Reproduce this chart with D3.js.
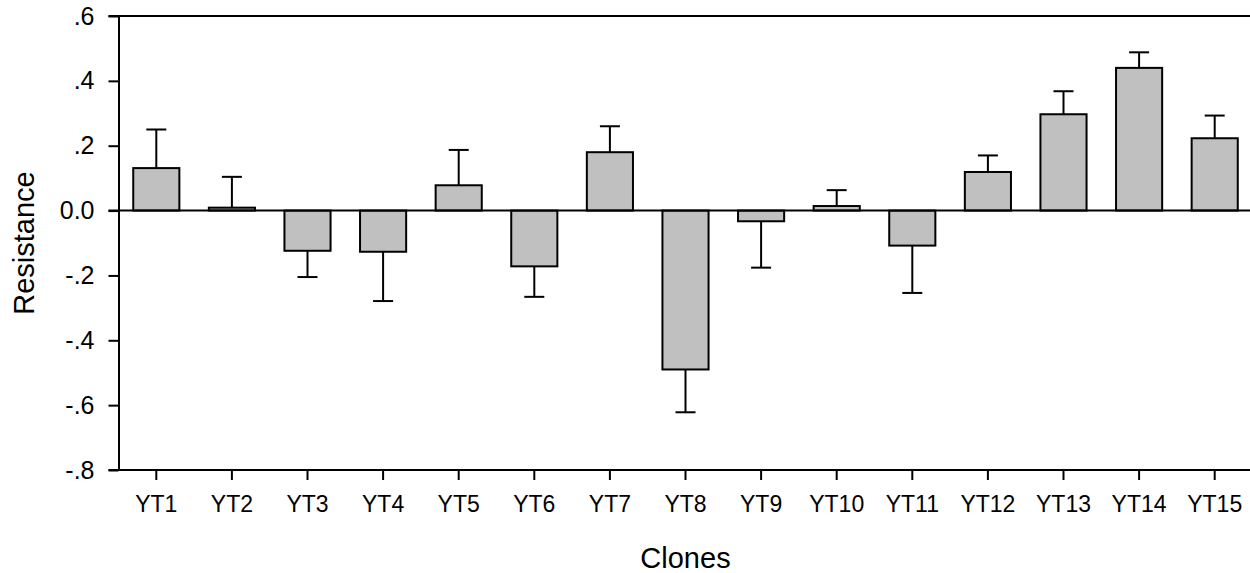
<!DOCTYPE html>
<html>
<head>
<meta charset="utf-8">
<script src="https://cdn.jsdelivr.net/npm/d3@7"></script>
<style>
  body { margin: 0; background: #fff; }
  svg text { font-family: 'Liberation Sans', Arial, sans-serif; fill: #000; }
</style>
</head>
<body>
<svg id="chart" width="1250" height="573"></svg>
<script>
const clones = ['YT1', 'YT2', 'YT3', 'YT4', 'YT5', 'YT6', 'YT7', 'YT8', 'YT9', 'YT10', 'YT11', 'YT12', 'YT13', 'YT14', 'YT15'];
const resistance = [0.131, 0.009, -0.124, -0.127, 0.078, -0.172, 0.180, -0.490, -0.033, 0.014, -0.108, 0.119, 0.297, 0.440, 0.223];
const errors = [0.119, 0.095, 0.081, 0.152, 0.109, 0.094, 0.080, 0.132, 0.143, 0.049, 0.146, 0.051, 0.071, 0.048, 0.070];
const yTicks = [0.6, 0.4, 0.2, 0.0, -0.2, -0.4, -0.6, -0.8];
const yTickLabels = ['.6', '.4', '.2', '0.0', '-.2', '-.4', '-.6', '-.8'];

const width = 1250;
const height = 573;
const plotLeft = 118.5;
const plotRight = 1252.5;
const plotTop = 16;
const plotBottom = 470;

const svg = d3.select('#chart');

const x = d3.scaleBand()
    .domain(clones)
    .range([plotLeft, plotRight])
    .paddingInner(0.39)
    .paddingOuter(0.195);

const y = d3.scaleLinear()
    .domain([-0.8, 0.6])
    .range([plotBottom, plotTop]);

// bars
svg.append('g')
    .selectAll('rect')
    .data(resistance)
    .enter()
    .append('rect')
    .attr('x', (d, i) => x(clones[i]))
    .attr('width', x.bandwidth())
    .attr('y', d => y(Math.max(0, d)))
    .attr('height', d => Math.abs(y(d) - y(0)))
    .attr('fill', '#c0c0c0')
    .attr('stroke', '#000')
    .attr('stroke-width', 2);

// one-sided error bars, pointing away from zero
const errG = svg.append('g').attr('stroke', '#000').attr('stroke-width', 2);
resistance.forEach((d, i) => {
    const cx = x(clones[i]) + x.bandwidth() / 2;
    const end = d >= 0 ? d + errors[i] : d - errors[i];
    errG.append('line')
        .attr('x1', cx).attr('x2', cx)
        .attr('y1', y(d)).attr('y2', y(end));
    errG.append('line')
        .attr('x1', cx - 10).attr('x2', cx + 10)
        .attr('y1', y(end)).attr('y2', y(end));
});

// y axis
const yAxis = svg.append('g')
    .attr('transform', `translate(${plotLeft},0)`)
    .call(d3.axisLeft(y)
        .tickValues(yTicks)
        .tickFormat((d, i) => yTickLabels[i])
        .tickSize(10)
        .tickSizeOuter(0)
        .tickPadding(14));
yAxis.select('.domain').attr('stroke-width', 2);
yAxis.selectAll('.tick line').attr('stroke-width', 2);
yAxis.selectAll('.tick text').style('font-size', '25px');

// x axis
const xAxis = svg.append('g')
    .attr('transform', `translate(0,${plotBottom})`)
    .call(d3.axisBottom(x)
        .tickSize(10)
        .tickSizeOuter(0)
        .tickPadding(16));
xAxis.select('.domain').remove();
xAxis.selectAll('.tick line').attr('stroke-width', 2);
xAxis.selectAll('.tick text').style('font-size', '23px');

// full-width lines at top, zero and bottom
svg.append('g')
    .selectAll('line')
    .data([0.6, 0, -0.8])
    .enter()
    .append('line')
    .attr('x1', plotLeft - 10)
    .attr('x2', width)
    .attr('y1', d => y(d))
    .attr('y2', d => y(d))
    .attr('stroke', '#000')
    .attr('stroke-width', 2);

// axis titles
svg.append('text')
    .attr('x', (plotLeft + plotRight) / 2)
    .attr('y', 568)
    .attr('text-anchor', 'middle')
    .style('font-size', '29px')
    .text('Clones');

svg.append('text')
    .attr('transform', `translate(34,${(plotTop + plotBottom) / 2}) rotate(-90)`)
    .attr('text-anchor', 'middle')
    .style('font-size', '29px')
    .text('Resistance');
</script>
</body>
</html>
